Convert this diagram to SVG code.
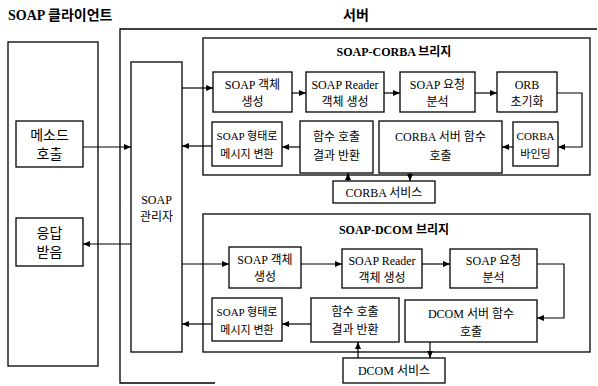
<svg xmlns="http://www.w3.org/2000/svg" width="598" height="386" viewBox="0 0 598 386">
<defs>
<style>
.b{fill:#fff;stroke:#000;stroke-width:1.3}
.f{fill:none;stroke:#000;stroke-width:1.3}
.c{fill:none;stroke:#000;stroke-width:1.2;marker-end:url(#ah)}
text{font-family:"Liberation Serif","Noto Sans CJK KR",serif;font-size:12px;text-anchor:middle;fill:#000}
.t{font-weight:bold;font-size:14px;text-anchor:start}
.h{font-weight:bold;font-size:12px}
.s{font-size:11px}
.l{font-size:14px}
</style>
<marker id="ah" markerWidth="7" markerHeight="6" refX="7" refY="3" orient="auto" markerUnits="userSpaceOnUse">
<path d="M0,0 L7,3 L0,6 Z" fill="#000"/>
</marker>
</defs>
<rect width="598" height="386" fill="#fff"/>
<g id="titles">
<text class="t" x="8" y="20">SOAP 클라이언트</text>
<text class="t" x="343" y="20">서버</text>
</g>
<g id="client"><rect class="b" x="8" y="42" width="90" height="324"/></g>
<g id="server"><polyline class="f" points="597,29 120,29 120,383 215,383"/></g>
<g id="method-call"><rect class="b" x="16" y="121" width="67" height="46"/><text class="l" x="49.5" y="140">메소드</text><text class="l" x="49.5" y="159">호출</text></g>
<g id="response"><rect class="b" x="16" y="218" width="67" height="48"/><text class="l" x="49.5" y="238">응답</text><text class="l" x="49.5" y="257">받음</text></g>
<g id="soap-manager"><rect class="b" x="131" y="62" width="51" height="290"/><text x="156.5" y="204">SOAP</text><text x="156.5" y="221">관리자</text></g>
<g id="corba-bridge"><rect class="b" x="203" y="38" width="387" height="137"/><text class="h" x="394" y="56">SOAP-CORBA 브리지</text></g>
<g id="c-obj"><rect class="b" x="213" y="72" width="79" height="40"/><text x="252.5" y="89">SOAP 객체</text><text x="252.5" y="106">생성</text></g>
<g id="c-reader"><rect class="b" x="306" y="72" width="78" height="40"/><text x="345" y="89">SOAP Reader</text><text x="345" y="106">객체 생성</text></g>
<g id="c-parse"><rect class="b" x="400" y="72" width="75" height="40"/><text x="437.5" y="89">SOAP 요청</text><text x="437.5" y="106">분석</text></g>
<g id="c-orb"><rect class="b" x="497" y="72" width="60" height="40"/><text x="527" y="89">ORB</text><text x="527" y="106">초기화</text></g>
<g id="c-bind"><rect class="b" x="513" y="122" width="45" height="44"/><text class="s" x="535.5" y="140">CORBA</text><text class="s" x="535.5" y="158">바인딩</text></g>
<g id="c-server-call"><rect class="b" x="379" y="121" width="123" height="52"/><text x="440.5" y="141">CORBA 서버 함수</text><text x="440.5" y="160">호출</text></g>
<g id="c-result"><rect class="b" x="300" y="121" width="73" height="52"/><text x="336.5" y="141">함수 호출</text><text x="336.5" y="160">결과 반환</text></g>
<g id="c-msg"><rect class="b" x="212" y="122" width="70" height="44"/><text class="s" x="247" y="140">SOAP 형태로</text><text class="s" x="247" y="158">메시지 변환</text></g>
<g id="corba-service"><rect class="b" x="333" y="181" width="102" height="22"/><text x="384" y="197">CORBA 서비스</text></g>
<g id="dcom-bridge"><rect class="b" x="203" y="214" width="387" height="138"/><text class="h" x="394" y="234">SOAP-DCOM 브리지</text></g>
<g id="d-obj"><rect class="b" x="229" y="247" width="72" height="41"/><text x="265" y="264">SOAP 객체</text><text x="265" y="281">생성</text></g>
<g id="d-reader"><rect class="b" x="342" y="249" width="80" height="39"/><text x="382" y="265">SOAP Reader</text><text x="382" y="282">객체 생성</text></g>
<g id="d-parse"><rect class="b" x="450" y="249" width="87" height="39"/><text x="493.5" y="265">SOAP 요청</text><text x="493.5" y="282">분석</text></g>
<g id="d-server-call"><rect class="b" x="405" y="300" width="132" height="42"/><text x="471" y="318">DCOM 서버 함수</text><text x="471" y="336">호출</text></g>
<g id="d-result"><rect class="b" x="311" y="298" width="88" height="44"/><text x="355" y="316">함수 호출</text><text x="355" y="334">결과 반환</text></g>
<g id="d-msg"><rect class="b" x="212" y="298" width="70" height="43"/><text class="s" x="247" y="316">SOAP 형태로</text><text class="s" x="247" y="334">메시지 변환</text></g>
<g id="dcom-service"><rect class="b" x="343" y="358" width="102" height="25"/><text x="394" y="375">DCOM 서비스</text></g>
<g id="connectors">
<path class="c" d="M83,147 H131"/>
<path class="c" d="M131,244 H83"/>
<path class="c" d="M182,88 H213"/>
<path class="c" d="M292,93 H306"/>
<path class="c" d="M384,93 H400"/>
<path class="c" d="M475,93 H497"/>
<path class="c" d="M557,93 H582 V147 H558"/>
<path class="c" d="M513,147 H502"/>
<path class="c" d="M410,173 V181"/>
<path class="c" d="M348,181 V173"/>
<path class="c" d="M300,147 H282"/>
<path class="c" d="M212,146 H182"/>
<path class="c" d="M182,264 H229"/>
<path class="c" d="M301,264 H342"/>
<path class="c" d="M422,264 H450"/>
<path class="c" d="M537,264 H564 V318 H537"/>
<path class="c" d="M430,342 V358"/>
<path class="c" d="M358,358 V342"/>
<path class="c" d="M311,324 H282"/>
<path class="c" d="M212,324 H182"/>
</g>
</svg>
